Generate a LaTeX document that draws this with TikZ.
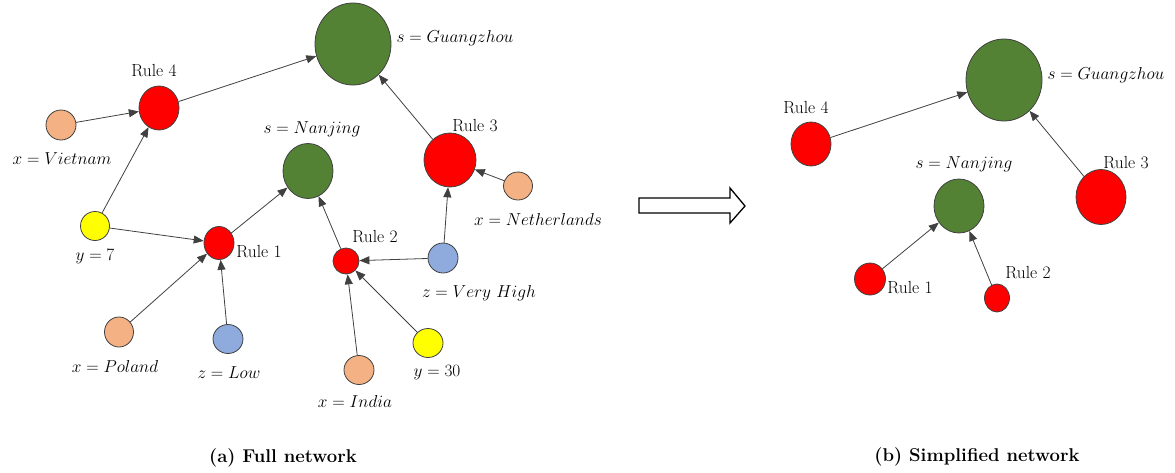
\documentclass[tikz,border=0pt]{standalone}
\usetikzlibrary{shapes.geometric,arrows.meta}
\definecolor{rred}{HTML}{FF0000}
\definecolor{ggreen}{HTML}{548235}
\definecolor{peach}{HTML}{F4B183}
\definecolor{bblue}{HTML}{8FAADC}
\definecolor{yyellow}{HTML}{FFFF00}
\definecolor{edgec}{HTML}{404040}
\tikzset{
  nd/.style={ellipse, draw=black!75, line width=0.8pt, inner sep=0pt},
  rulen/.style={nd, fill=rred},
  goal/.style={nd, fill=ggreen},
  xin/.style={nd, fill=peach},
  zin/.style={nd, fill=bblue},
  yin/.style={nd, fill=yyellow},
  edge/.style={draw=edgec, line width=0.8pt, -{Triangle[length=10pt,width=8pt]}},
  rtxt/.style={font=\fontsize{17.5}{20}\selectfont, anchor=base, inner sep=0pt},
  mtxt/.style={font=\fontsize{17.5}{20}\selectfont, anchor=base, inner sep=0pt},
  captxt/.style={font=\fontsize{18.5}{22}\selectfont\bfseries, anchor=base, inner sep=0pt},
}
\begin{document}
\begin{tikzpicture}[x=1pt,y=-1pt]
\useasboundingbox (0,0) rectangle (1175,472);
% ---------- (a) full network ----------
\node[goal, minimum width=76pt, minimum height=82pt] (G1) at (353,44) {};
\node[rulen, minimum width=40pt, minimum height=44pt] (R4) at (159,108) {};
\node[xin, minimum width=30pt, minimum height=30pt] (VIET) at (61,125) {};
\node[goal, minimum width=50pt, minimum height=55pt] (N1) at (308,171) {};
\node[rulen, minimum width=52pt, minimum height=54pt] (R3) at (450,160) {};
\node[xin, minimum width=29pt, minimum height=28pt] (NETH) at (518,186) {};
\node[yin, minimum width=29pt, minimum height=29pt] (Y7) at (95,226) {};
\node[rulen, minimum width=30pt, minimum height=33pt] (R1) at (219,243) {};
\node[xin, minimum width=29pt, minimum height=30pt] (POL) at (119,332) {};
\node[zin, minimum width=30pt, minimum height=29pt] (LOW) at (228,339) {};
\node[rulen, minimum width=26pt, minimum height=26pt] (R2) at (346,261) {};
\node[zin, minimum width=30pt, minimum height=30pt] (VH) at (443,258) {};
\node[yin, minimum width=30pt, minimum height=29pt] (Y30) at (428,343) {};
\node[xin, minimum width=30pt, minimum height=29pt] (IND) at (359,370) {};

\node[rtxt] (lR4) at (154,76) {Rule 4};
\node[mtxt] (lVIET) at (62,164) {$x = Vietnam$};
\node[mtxt] (lG1) at (455,42) {$s = Guangzhou$};
\node[mtxt] (lN1) at (312,133) {$s = Nanjing$};
\node[rtxt] (lR3) at (475,131) {Rule 3};
\node[mtxt] (lNETH) at (538,225) {$x = Netherlands$};
\node[rtxt] (lR2) at (375,242) {Rule 2};
\node[mtxt] (lVH) at (479,297) {$z = Very\ High$};
\node[mtxt] (lY30) at (437,376) {$y = 30$};
\node[mtxt] (lIND) at (355,407) {$x = India$};
\node[mtxt] (lY7) at (95,260) {$y = 7$};
\node[rtxt] (lR1) at (259,257) {Rule 1};
\node[mtxt] (lPOL) at (115,372) {$x = Poland$};
\node[mtxt] (lLOW) at (229,378) {$z = Low$};

\draw[edge] (VIET) -- (R4);
\draw[edge] (Y7) -- (R4);
\draw[edge] (Y7) -- (R1);
\draw[edge] (R4) -- (G1);
\draw[edge] (R1) -- (N1);
\draw[edge] (POL) -- (R1);
\draw[edge] (LOW) -- (R1);
\draw[edge] (R2) -- (N1);
\draw[edge] (VH) -- (R2);
\draw[edge] (VH) -- (R3);
\draw[edge] (IND) -- (R2);
\draw[edge] (Y30) -- (R2);
\draw[edge] (NETH) -- (R3);
\draw[edge] (R3) -- (G1);

\node[captxt] (capA) at (283,462) {(a) Full network};

% ---------- block arrow ----------
\draw[line width=1.3pt, line join=miter, fill=white]
  (639,198) -- (730,198) -- (730,188) -- (745,206) -- (730,223) -- (730,213) -- (639,213) -- cycle;

% ---------- (b) simplified network ----------
\node[goal, minimum width=76pt, minimum height=82pt] (G2) at (1004,80) {};
\node[rulen, minimum width=40pt, minimum height=44pt] (R4b) at (811,144) {};
\node[goal, minimum width=50pt, minimum height=54pt] (N2) at (959,206) {};
\node[rulen, minimum width=50pt, minimum height=55pt] (R3b) at (1101,197) {};
\node[rulen, minimum width=31pt, minimum height=32pt] (R1b) at (870,279) {};
\node[rulen, minimum width=25pt, minimum height=28pt] (R2b) at (997,298) {};

\node[mtxt] (lG2) at (1106,79) {$s = Guangzhou$};
\node[rtxt] (lR4b) at (806,113) {Rule 4};
\node[mtxt] (lN2) at (964,168) {$s = Nanjing$};
\node[rtxt] (lR3b) at (1126,168) {Rule 3};
\node[rtxt] (lR1b) at (910,293) {Rule 1};
\node[rtxt] (lR2b) at (1028,278) {Rule 2};

\draw[edge] (R4b) -- (G2);
\draw[edge] (R3b) -- (G2);
\draw[edge] (R1b) -- (N2);
\draw[edge] (R2b) -- (N2);

\node[captxt] (capB) at (977,461) {(b) Simplified network};
\end{tikzpicture}
\end{document}
